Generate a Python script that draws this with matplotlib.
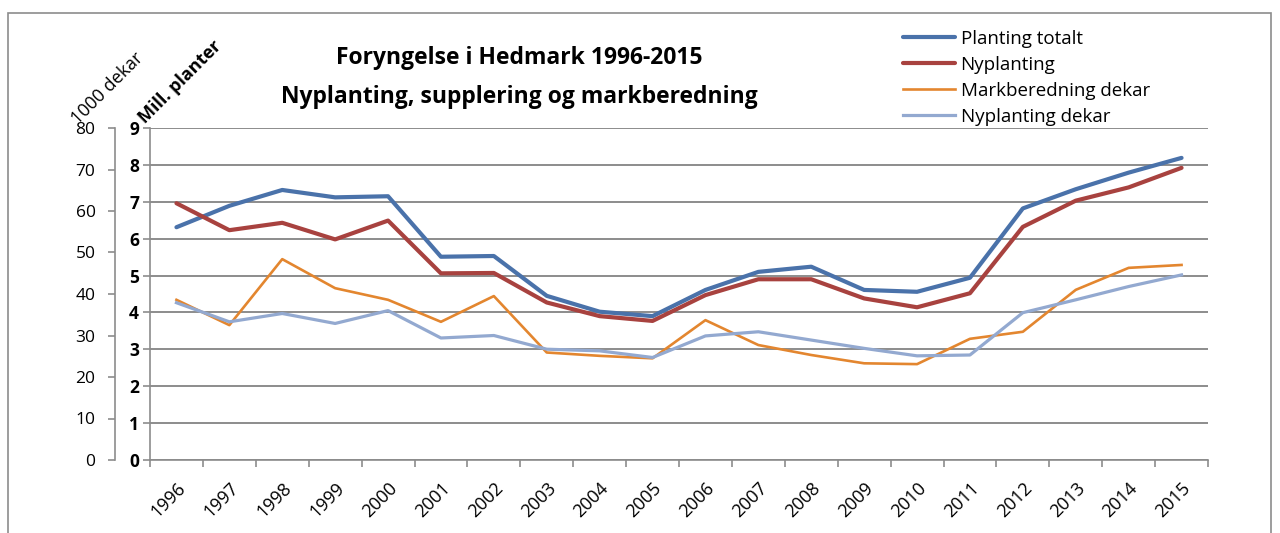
import matplotlib.pyplot as plt
import matplotlib.patches as patches
import numpy as np

plt.rcParams['font.family'] = ['Open Sans', 'DejaVu Sans']

years = [str(y) for y in range(1996, 2016)]

# Mill. planter (venstre indre akse)
planting_totalt = [6.31, 6.89, 7.32, 7.12, 7.15, 5.51, 5.53, 4.45, 4.02, 3.90,
                   4.61, 5.10, 5.24, 4.61, 4.56, 4.94, 6.82, 7.34, 7.79, 8.19]
nyplanting = [6.96, 6.23, 6.43, 5.98, 6.49, 5.06, 5.07, 4.27, 3.90, 3.77,
              4.47, 4.90, 4.90, 4.38, 4.14, 4.52, 6.32, 7.03, 7.39, 7.92]

# 1000 dekar (venstre ytre akse)
markberedning_dekar = [38.6, 32.5, 48.4, 41.4, 38.6, 33.3, 39.5, 25.9, 25.1, 24.5,
                       33.7, 27.7, 25.3, 23.3, 23.1, 29.2, 30.9, 41.0, 46.3, 47.0]
nyplanting_dekar = [37.9, 33.3, 35.3, 32.9, 36.0, 29.4, 30.0, 26.7, 26.3, 24.7,
                    29.9, 30.9, 28.9, 26.9, 25.1, 25.3, 35.5, 38.6, 41.8, 44.6]

W, H = 1280, 533
fig = plt.figure(figsize=(W / 100, H / 100), dpi=100)
ax = fig.add_axes([150 / W, 1 - 460 / H, (1208 - 150) / W, (460 - 128) / H])

# ramme rundt hele diagrammet
fig.patches.append(patches.Rectangle((8 / W, -0.02), 1263 / W, 1 - 13 / H + 0.02,
                                     transform=fig.transFigure, fill=False,
                                     edgecolor='#8c8c8c', linewidth=1.2))

x = np.arange(len(years))
gray = '#8c8c8c'

ax.set_ylim(0, 9)
ax.set_xlim(-0.5, len(years) - 0.5)
ax.set_yticks(range(0, 10))
ax.yaxis.grid(True, color=gray, linewidth=1.4)
ax.set_axisbelow(True)
for s in ['top', 'right']:
    ax.spines[s].set_visible(False)
for s in ['left', 'bottom']:
    ax.spines[s].set_color(gray)
    ax.spines[s].set_linewidth(1.2)
ax.tick_params(axis='y', length=5, width=1.2, color=gray, labelsize=12.5, pad=3)
for lab in ax.get_yticklabels():
    lab.set_fontweight('bold')

ax.set_xticks(np.arange(-0.5, len(years)), minor=False)
ax.set_xticklabels([])
ax.tick_params(axis='x', which='major', length=5, width=1.2, color=gray)
ax.set_xticks(x, minor=True)
ax.set_xticklabels(years, minor=True, rotation=45, ha='right', va='top',
                   rotation_mode='anchor', fontsize=13)
ax.tick_params(axis='x', which='minor', length=0, pad=14)

ax2 = ax.twinx()
ax2.set_ylim(0, 80)
ax2.set_yticks(range(0, 90, 10))
ax2.yaxis.set_ticks_position('left')
ax2.yaxis.set_label_position('left')
ax2.spines['left'].set_position(('outward', 25.2))
ax2.spines['left'].set_color(gray)
ax2.spines['left'].set_linewidth(1.2)
for s in ['top', 'right', 'bottom']:
    ax2.spines[s].set_visible(False)
ax2.tick_params(axis='y', length=5, width=1.2, color=gray, labelsize=12.5, pad=9)

l1, = ax.plot(x, planting_totalt, color='#4A72AA', linewidth=3.0,
              solid_capstyle='round', label='Planting totalt')
l2, = ax.plot(x, nyplanting, color='#A8423F', linewidth=3.0,
              solid_capstyle='round', label='Nyplanting')
l3, = ax2.plot(x, markberedning_dekar, color='#E3862F', linewidth=1.9,
               label='Markberedning dekar')
l4, = ax2.plot(x, nyplanting_dekar, color='#93A9D0', linewidth=2.3,
               label='Nyplanting dekar')

fig.legend(handles=[l1, l2, l3, l4], loc='upper left',
           bbox_to_anchor=(895 / W, 1 - 22 / H), frameon=False, fontsize=13.5,
           handlelength=2.8, handletextpad=0.3, labelspacing=0.43,
           borderaxespad=0)

fig.text(519 / W, 1 - 58 / H, 'Foryngelse i Hedmark 1996-2015', ha='center',
         va='center', fontsize=16.5, fontweight='bold')
fig.text(519 / W, 1 - 97 / H, 'Nyplanting, supplering og markberedning',
         ha='center', va='center', fontsize=16.5, fontweight='bold')

fig.text(108 / W, 1 - 88 / H, '1000 dekar', rotation=45, ha='center',
         va='center', rotation_mode='anchor', fontsize=13)
fig.text(180 / W, 1 - 82 / H, 'Mill. planter', rotation=45, ha='center',
         va='center', rotation_mode='anchor', fontsize=13, fontweight='bold')

fig.savefig('out.png', dpi=100)
